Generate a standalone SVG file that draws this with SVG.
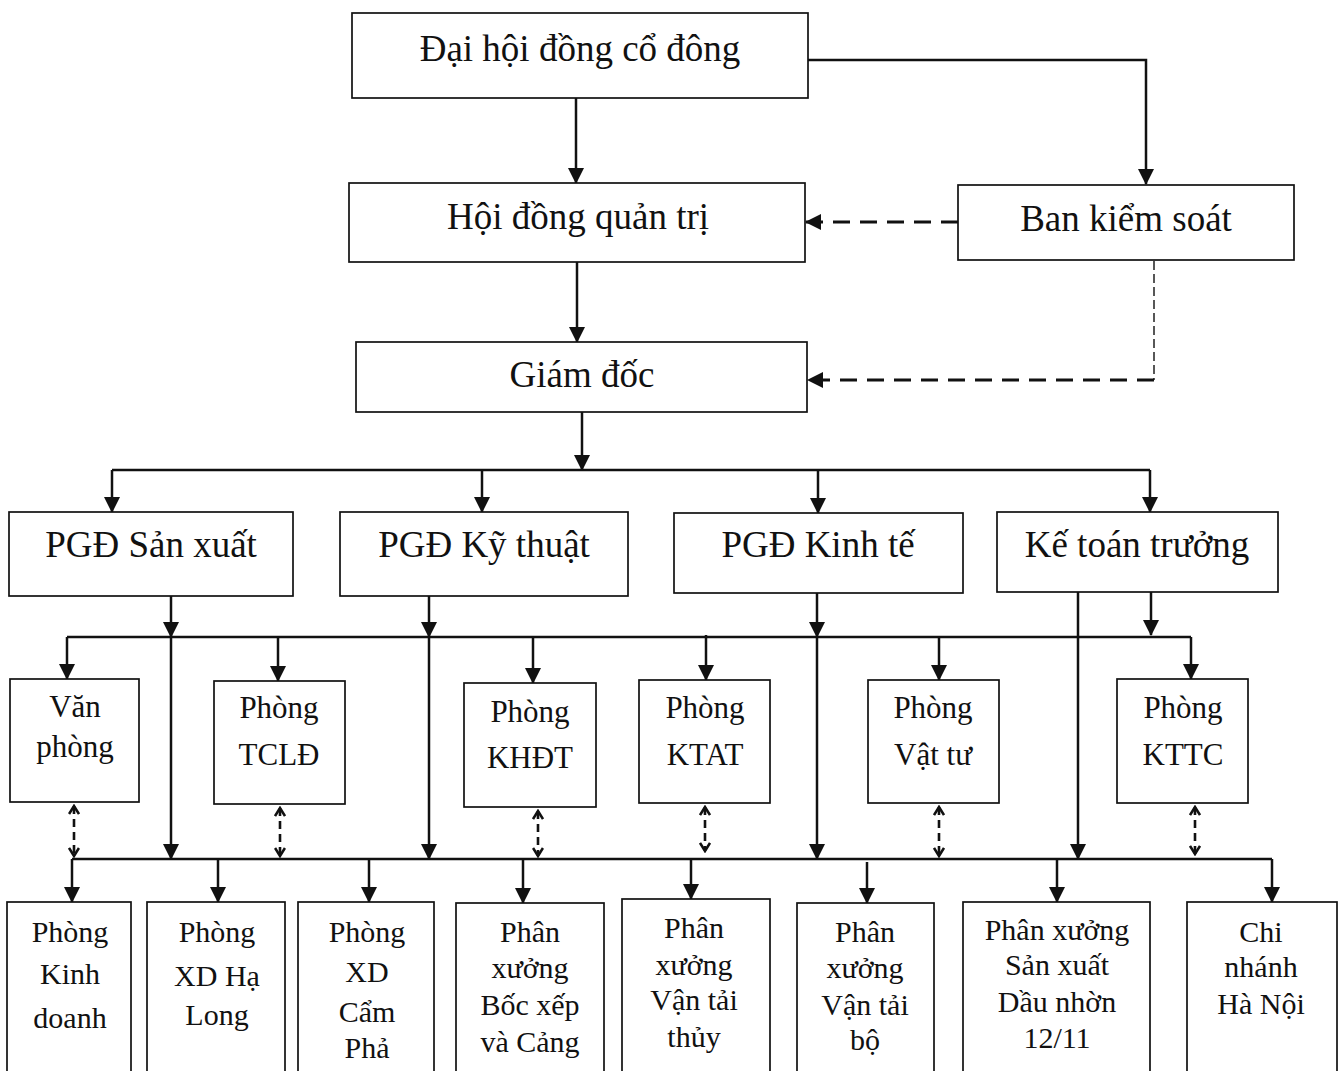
<svg xmlns="http://www.w3.org/2000/svg" width="1342" height="1071" viewBox="0 0 1342 1071">
<style>
.box{fill:#fff;stroke:#111;stroke-width:1.7}
.t{font-family:"Liberation Serif","Times New Roman",serif;fill:#111;text-anchor:middle}
.big{font-size:37px}
.mid{font-size:31px}
.sm{font-size:30px}
.ln{stroke:#111;stroke-width:2.5;fill:none}
.arr{marker-end:url(#ah)}
.dash{stroke:#111;stroke-width:2.8;fill:none;stroke-dasharray:17 10}
.thin{stroke:#111;stroke-width:1.4;fill:none;stroke-dasharray:9 4}
.dd{stroke:#111;stroke-width:2.6;fill:none;stroke-dasharray:8 5;marker-start:url(#oa);marker-end:url(#oa)}
</style>
<defs>
<marker id="ah" markerUnits="userSpaceOnUse" viewBox="0 0 16 16" markerWidth="16" markerHeight="16" refX="15" refY="8" orient="auto"><path d="M0,0 L16,8 L0,16 Z" fill="#111"/></marker>
<marker id="oa" markerUnits="userSpaceOnUse" viewBox="0 0 12 12" markerWidth="12" markerHeight="12" refX="10" refY="6" orient="auto-start-reverse"><path d="M2,1 L10,6 L2,11" fill="none" stroke="#111" stroke-width="2.6"/></marker>
</defs>
<rect width="1342" height="1071" fill="#fff"/>

<g id="connectors">
<line class="ln arr" x1="576" y1="98" x2="576" y2="183"/>
<polyline class="ln arr" points="808,60 1146,60 1146,184"/>
<line class="dash arr" x1="958" y1="222" x2="806" y2="222"/>
<line class="thin" x1="1154" y1="261" x2="1154" y2="380"/>
<line class="dash arr" x1="1154" y1="380" x2="808" y2="380"/>
<line class="ln arr" x1="577" y1="262" x2="577" y2="342"/>
<line class="ln arr" x1="582" y1="412" x2="582" y2="470"/>
<line class="ln" x1="112" y1="470" x2="1150" y2="470"/>
<line class="ln arr" x1="112" y1="470" x2="112" y2="512"/>
<line class="ln arr" x1="482" y1="470" x2="482" y2="512"/>
<line class="ln arr" x1="818" y1="470" x2="818" y2="513"/>
<line class="ln arr" x1="1150" y1="470" x2="1150" y2="512"/>

<line class="ln" x1="67" y1="637" x2="1191" y2="637"/>
<line class="ln arr" x1="67" y1="637" x2="67" y2="679"/>
<line class="ln arr" x1="278" y1="637" x2="278" y2="681"/>
<line class="ln arr" x1="533" y1="637" x2="533" y2="683"/>
<line class="ln arr" x1="706" y1="635" x2="706" y2="680"/>
<line class="ln arr" x1="939" y1="637" x2="939" y2="680"/>
<line class="ln arr" x1="1191" y1="637" x2="1191" y2="679"/>

<line class="ln arr" x1="171" y1="596" x2="171" y2="637"/>
<line class="ln arr" x1="171" y1="637" x2="171" y2="859"/>
<line class="ln arr" x1="429" y1="596" x2="429" y2="637"/>
<line class="ln arr" x1="429" y1="637" x2="429" y2="859"/>
<line class="ln arr" x1="817" y1="593" x2="817" y2="637"/>
<line class="ln arr" x1="817" y1="637" x2="817" y2="859"/>
<line class="ln arr" x1="1078" y1="592" x2="1078" y2="859"/>
<line class="ln arr" x1="1151" y1="592" x2="1151" y2="635"/>

<line class="dd" x1="74" y1="806" x2="74" y2="856"/>
<line class="dd" x1="280" y1="808" x2="280" y2="856"/>
<line class="dd" x1="538" y1="811" x2="538" y2="856"/>
<line class="dd" x1="705" y1="807" x2="705" y2="851"/>
<line class="dd" x1="939" y1="807" x2="939" y2="856"/>
<line class="dd" x1="1195" y1="807" x2="1195" y2="854"/>

<line class="ln" x1="72" y1="859" x2="1272" y2="859"/>
<line class="ln arr" x1="72" y1="859" x2="72" y2="902"/>
<line class="ln arr" x1="218" y1="859" x2="218" y2="902"/>
<line class="ln arr" x1="369" y1="859" x2="369" y2="902"/>
<line class="ln arr" x1="523" y1="859" x2="523" y2="903"/>
<line class="ln arr" x1="691" y1="859" x2="691" y2="899"/>
<line class="ln arr" x1="867" y1="862" x2="867" y2="903"/>
<line class="ln arr" x1="1057" y1="859" x2="1057" y2="902"/>
<line class="ln arr" x1="1272" y1="859" x2="1272" y2="902"/>
</g>

<g id="dhdcd"><rect class="box" x="352" y="13" width="456" height="85"/><text class="t big" x="580" y="61">Đại hội đồng cổ đông</text></g>
<g id="hdqt"><rect class="box" x="349" y="183" width="456" height="79"/><text class="t big" x="578" y="229">Hội đồng quản trị</text></g>
<g id="bks"><rect class="box" x="958" y="185" width="336" height="75"/><text class="t big" x="1126" y="231">Ban kiểm soát</text></g>
<g id="gd"><rect class="box" x="356" y="342" width="451" height="70"/><text class="t big" x="582" y="387">Giám đốc</text></g>

<g id="pgdsx"><rect class="box" x="9" y="512" width="284" height="84"/><text class="t big" x="151" y="557">PGĐ Sản xuất</text></g>
<g id="pgdkt"><rect class="box" x="340" y="512" width="288" height="84"/><text class="t big" x="484" y="557">PGĐ Kỹ thuật</text></g>
<g id="pgdkte"><rect class="box" x="674" y="513" width="289" height="80"/><text class="t big" x="818" y="557">PGĐ Kinh tế</text></g>
<g id="ktt"><rect class="box" x="997" y="512" width="281" height="80"/><text class="t big" x="1137" y="557">Kế toán trưởng</text></g>

<g id="vanphong"><rect class="box" x="10" y="679" width="129" height="123"/><text class="t mid" x="75" y="717">Văn<tspan x="75" y="757">phòng</tspan></text></g>
<g id="tcld"><rect class="box" x="214" y="681" width="131" height="123"/><text class="t mid" x="279" y="718">Phòng<tspan x="279" y="765">TCLĐ</tspan></text></g>
<g id="khdt"><rect class="box" x="464" y="683" width="132" height="124"/><text class="t mid" x="530" y="722">Phòng<tspan x="530" y="768">KHĐT</tspan></text></g>
<g id="ktat"><rect class="box" x="639" y="680" width="131" height="123"/><text class="t mid" x="705" y="718">Phòng<tspan x="705" y="765">KTAT</tspan></text></g>
<g id="vattu"><rect class="box" x="868" y="680" width="131" height="123"/><text class="t mid" x="933" y="718">Phòng<tspan x="933" y="765">Vật tư</tspan></text></g>
<g id="kttc"><rect class="box" x="1117" y="679" width="131" height="124"/><text class="t mid" x="1183" y="718">Phòng<tspan x="1183" y="765">KTTC</tspan></text></g>

<g id="kinhdoanh"><rect class="box" x="7" y="902" width="124" height="180"/><text class="t sm" x="70" y="942">Phòng<tspan x="70" y="984">Kinh</tspan><tspan x="70" y="1028">doanh</tspan></text></g>
<g id="xdhalong"><rect class="box" x="147" y="902" width="138" height="180"/><text class="t sm" x="217" y="942">Phòng<tspan x="217" y="986">XD Hạ</tspan><tspan x="217" y="1025">Long</tspan></text></g>
<g id="xdcampha"><rect class="box" x="298" y="902" width="136" height="180"/><text class="t sm" x="367" y="942">Phòng<tspan x="367" y="982">XD</tspan><tspan x="367" y="1022">Cẩm</tspan><tspan x="367" y="1058">Phả</tspan></text></g>
<g id="bocxep"><rect class="box" x="456" y="903" width="148" height="180"/><text class="t sm" x="530" y="942">Phân<tspan x="530" y="978">xưởng</tspan><tspan x="530" y="1015">Bốc xếp</tspan><tspan x="530" y="1052">và Cảng</tspan></text></g>
<g id="vtthuy"><rect class="box" x="622" y="899" width="148" height="180"/><text class="t sm" x="694" y="938">Phân<tspan x="694" y="975">xưởng</tspan><tspan x="694" y="1010">Vận tải</tspan><tspan x="694" y="1047">thủy</tspan></text></g>
<g id="vtbo"><rect class="box" x="797" y="903" width="137" height="180"/><text class="t sm" x="865" y="942">Phân<tspan x="865" y="978">xưởng</tspan><tspan x="865" y="1015">Vận tải</tspan><tspan x="865" y="1050">bộ</tspan></text></g>
<g id="daunhon"><rect class="box" x="963" y="902" width="187" height="180"/><text class="t sm" x="1057" y="940">Phân xưởng<tspan x="1057" y="975">Sản xuất</tspan><tspan x="1057" y="1012">Dầu nhờn</tspan><tspan x="1057" y="1048">12/11</tspan></text></g>
<g id="chinhanh"><rect class="box" x="1187" y="902" width="150" height="180"/><text class="t sm" x="1261" y="942">Chi<tspan x="1261" y="977">nhánh</tspan><tspan x="1261" y="1014">Hà Nội</tspan></text></g>
</svg>
